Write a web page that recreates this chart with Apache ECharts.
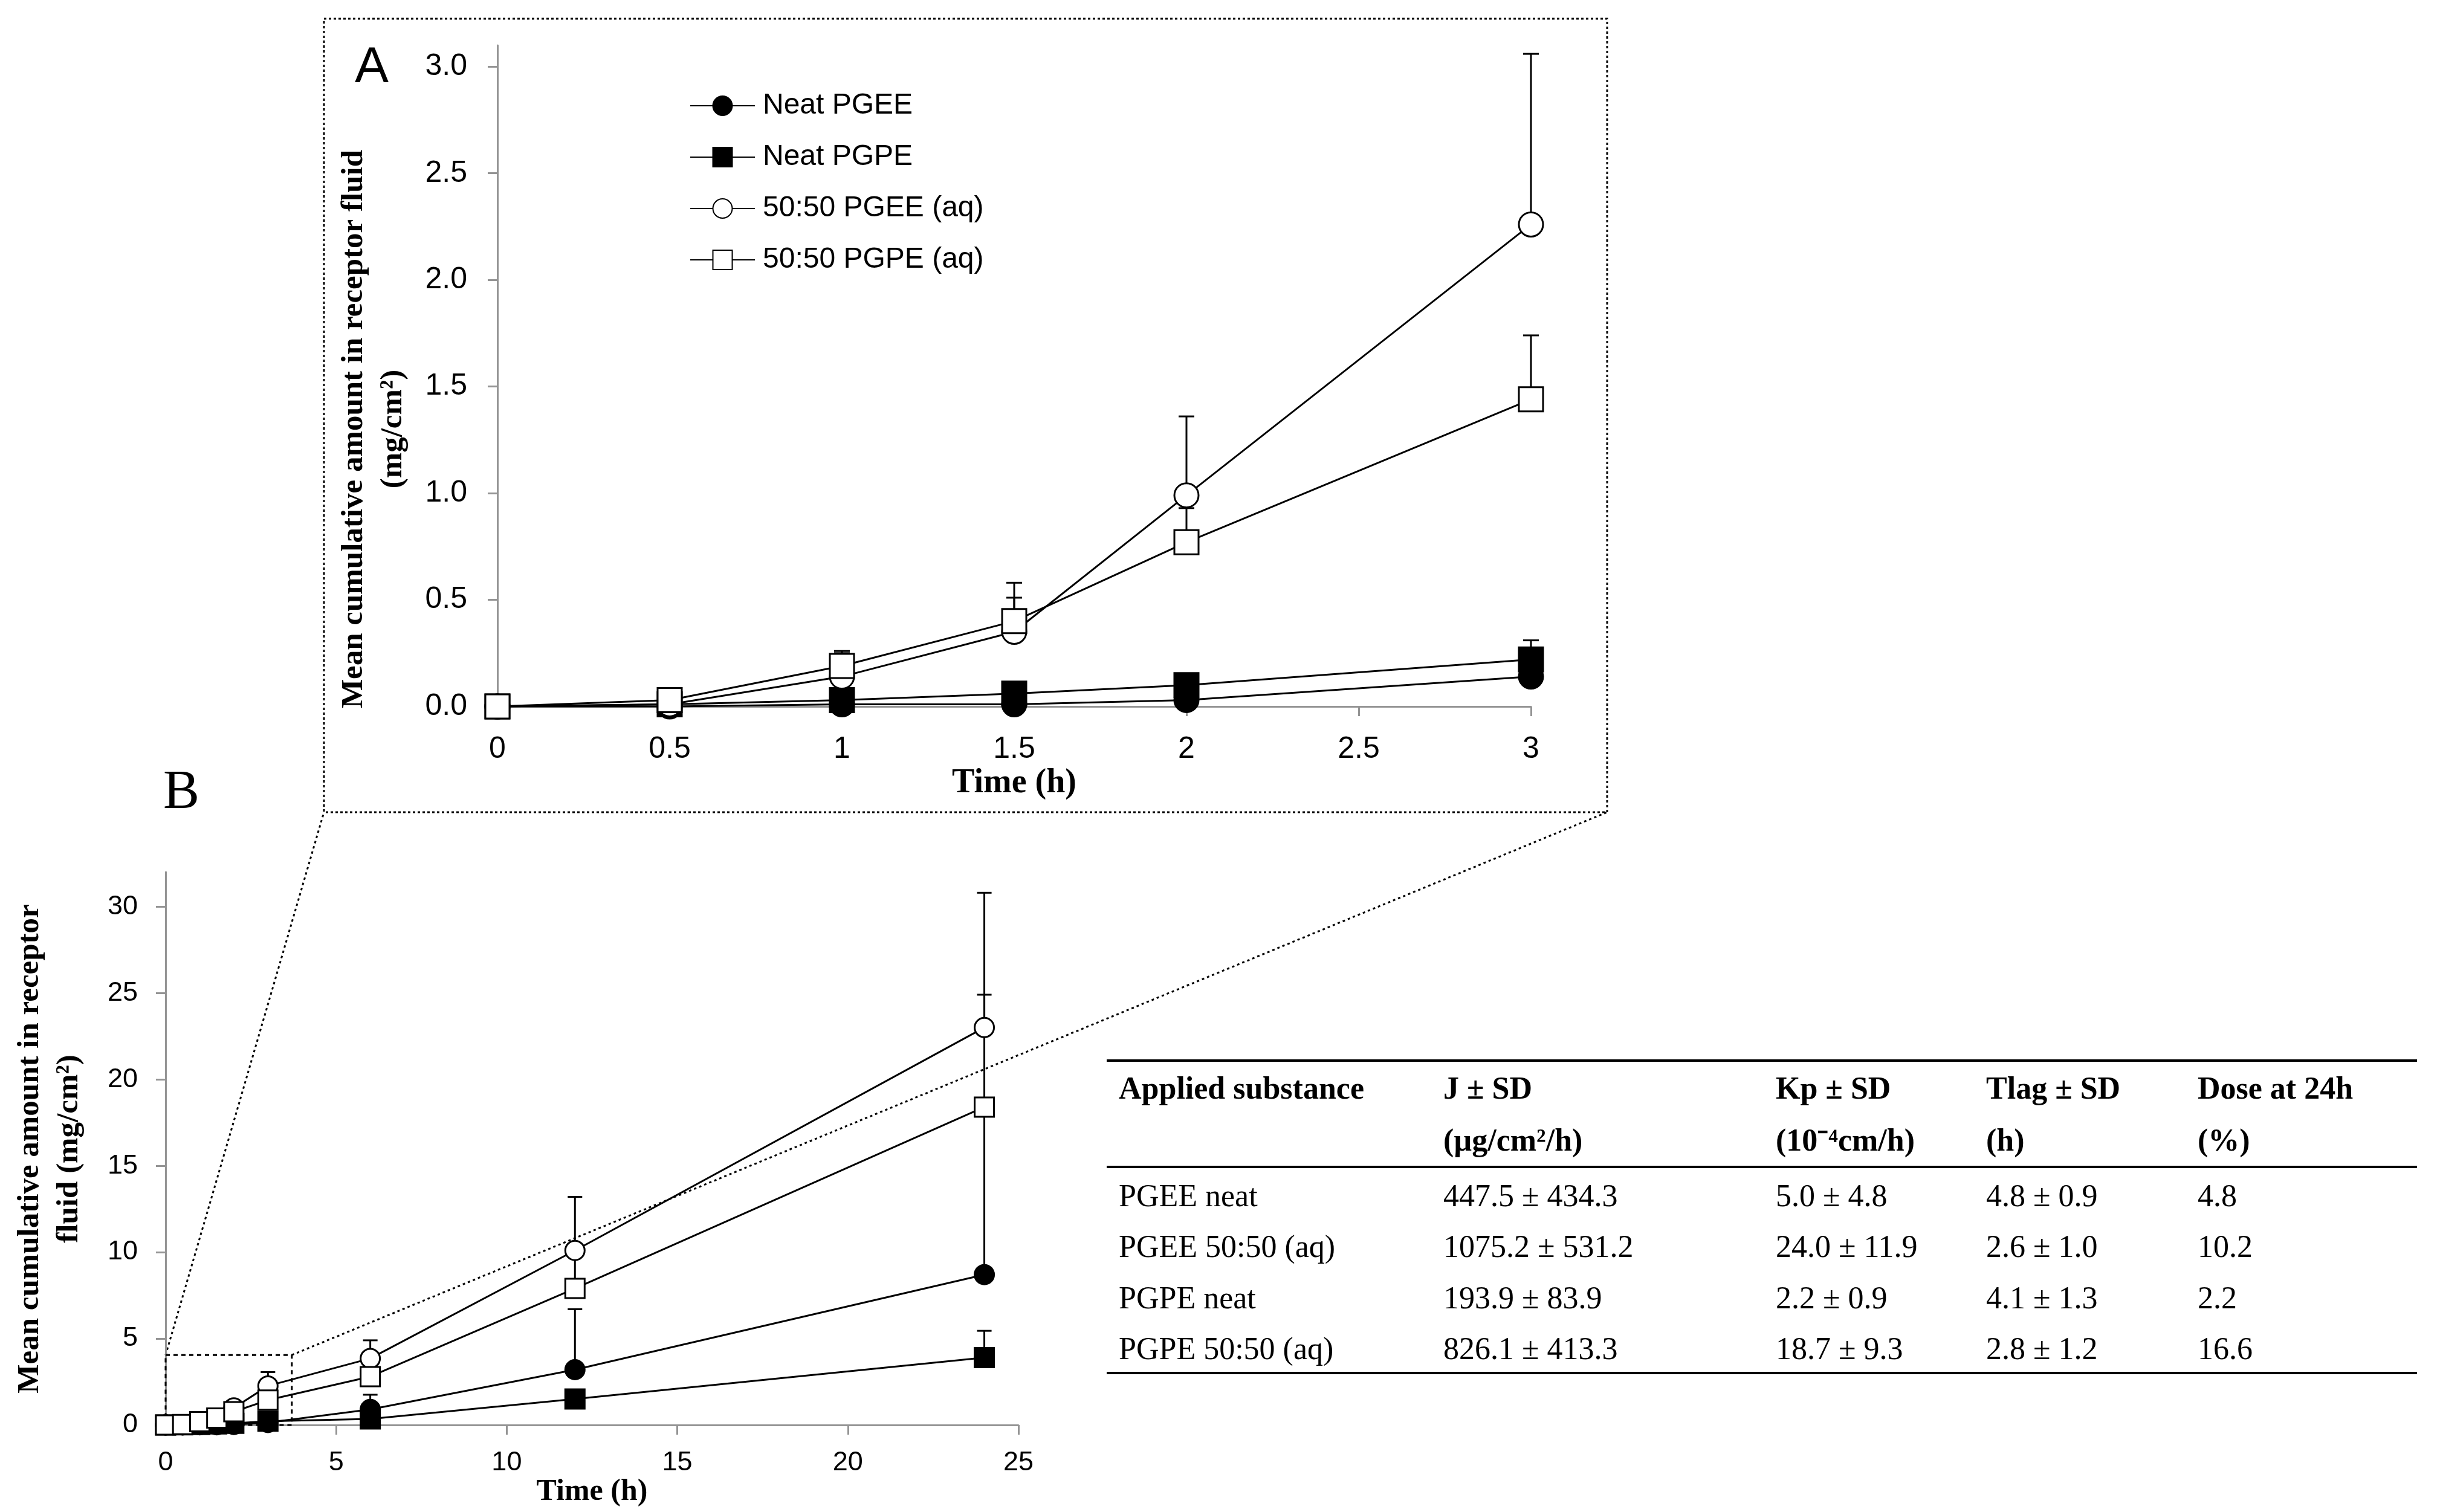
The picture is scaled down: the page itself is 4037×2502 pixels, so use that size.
<!DOCTYPE html>
<html>
<head>
<meta charset="utf-8">
<script src="https://cdn.jsdelivr.net/npm/echarts@6/dist/echarts.min.js"></script>
<style>
html,body{margin:0;padding:0;background:#fff;}
#chart{width:4037px;height:2502px;}
</style>
</head>
<body>
<div id="chart"></div>
<script>
// ---------------- DATA ----------------
const times = [0, 0.5, 1, 1.5, 2, 3, 6, 12, 24];

const neatPGEE    = [0, 0.00, 0.01, 0.01, 0.03, 0.14, 0.90, 3.2, 8.7];
const neatPGEE_sd = [0, 0.005, 0.01, 0.01, 0.015, 0.08, 0.85, 3.5, 9.9];
const neatPGPE    = [0, 0.01, 0.03, 0.06, 0.10, 0.22, 0.35, 1.5, 3.9];
const neatPGPE_sd = [0, 0.005, 0.01, 0.02, 0.03, 0.09, 0.15, 0.5, 1.55];
const pgee50      = [0, 0.01, 0.14, 0.35, 0.99, 2.26, 3.85, 10.1, 23.0];
const pgee50_sd   = [0, 0.01, 0.12, 0.23, 0.37, 0.80, 1.05, 3.1, 7.8];
const pgpe50      = [0, 0.03, 0.19, 0.40, 0.77, 1.44, 2.80, 7.9, 18.4];
const pgpe50_sd   = [0, 0.01, 0.06, 0.11, 0.16, 0.30, 0.90, 2.0, 6.5];

const seriesNames = ['Neat PGEE', 'Neat PGPE', '50:50 PGEE (aq)', '50:50 PGPE (aq)'];

// axis ticks
const aXTicks = [0, 0.5, 1, 1.5, 2, 2.5, 3];
const aYTicks = [0, 0.5, 1.0, 1.5, 2.0, 2.5, 3.0];
const bXTicks = [0, 5, 10, 15, 20, 25];
const bYTicks = [0, 5, 10, 15, 20, 25, 30];
const aYMax = 3.1;
const bYMax = 32;

// zoomed region shown in panel A (in panel B data units)
const zoomBoxX = [0, 3.7];
const zoomBoxY = [0, 4.05];

// table
const tableHeader1 = ['Applied substance', 'J ± SD', 'Kp ± SD', 'Tlag ± SD', 'Dose at 24h'];
const tableHeader2 = ['', '(µg/cm²/h)', '(10⁻⁴cm/h)', '(h)', '(%)'];
const tableRows = [
  ['PGEE neat', '447.5 ± 434.3', '5.0 ± 4.8', '4.8 ± 0.9', '4.8'],
  ['PGEE 50:50 (aq)', '1075.2 ± 531.2', '24.0 ± 11.9', '2.6 ± 1.0', '10.2'],
  ['PGPE neat', '193.9 ± 83.9', '2.2 ± 0.9', '4.1 ± 1.3', '2.2'],
  ['PGPE 50:50 (aq)', '826.1 ± 413.3', '18.7 ± 9.3', '2.8 ± 1.2', '16.6']
];

// ---------------- STYLE ----------------
const valuesBySeries = [neatPGEE, neatPGPE, pgee50, pgpe50];
const sdBySeries = [neatPGEE_sd, neatPGPE_sd, pgee50_sd, pgpe50_sd];
const symbolBySeries = ['circle', 'rect', 'circle', 'rect'];
const fillBySeries = ['#000', '#000', '#fff', '#fff'];

const SANS = 'Liberation Sans';
const SERIF = 'Liberation Serif';
const AXIS_GREY = '#949494';

const panels = [
  { xMax: 3, xInterval: 0.5, yMax: aYMax, xTicks: aXTicks, yTicks: aYTicks, sym: 40, cap: 26,
    grid: { left: 823, top: 75, width: 1710, height: 1094 }, fs: 50, yFmt: v => v.toFixed(1),
    xName: 'Time (h)', xNameSize: 56, xNameGap: 100, yMargin: 50, xMargin: 46 },
  { xMax: 25, xInterval: 5, yMax: bYMax, xTicks: bXTicks, yTicks: bYTicks, sym: 32, cap: 24,
    grid: { left: 274, top: 1443, width: 1411, height: 915 }, fs: 45, yFmt: v => String(v),
    xName: 'Time (h)', xNameSize: 50, xNameGap: 71, yMargin: 46, xMargin: 40 }
];

const chart = echarts.init(document.getElementById('chart'), null, { renderer: 'canvas', devicePixelRatio: 1 });

const grids = [], xAxes = [], yAxes = [], series = [];
panels.forEach((p, pi) => {
  grids.push(Object.assign({ containLabel: false }, p.grid));
  xAxes.push({
    type: 'value', gridIndex: pi, min: 0, max: p.xMax, interval: p.xInterval,
    splitLine: { show: false },
    axisLine: { lineStyle: { color: AXIS_GREY, width: 3 } },
    axisTick: { length: 16, lineStyle: { color: AXIS_GREY, width: 3 } },
    axisLabel: { margin: p.xMargin, fontFamily: SANS, fontSize: p.fs, color: '#000',
      customValues: p.xTicks },
    name: p.xName, nameLocation: 'middle', nameGap: p.xNameGap,
    nameTextStyle: { fontFamily: SERIF, fontWeight: 'bold', fontSize: p.xNameSize, color: '#000' }
  });
  yAxes.push({
    type: 'value', gridIndex: pi, min: 0, max: p.yMax,
    splitLine: { show: false },
    axisLine: { show: true, lineStyle: { color: AXIS_GREY, width: 3 } },
    axisTick: { show: true, length: 16, lineStyle: { color: AXIS_GREY, width: 3 }, customValues: p.yTicks },
    axisLabel: { margin: p.yMargin, fontFamily: SANS, fontSize: p.fs, color: '#000',
      customValues: p.yTicks, formatter: p.yFmt }
  });

  valuesBySeries.forEach((vals, si) => {
    const idx = times.map((t, i) => i).filter(i => times[i] <= p.xMax);
    // error bars (plus direction)
    series.push({
      type: 'custom', xAxisIndex: pi, yAxisIndex: pi, z: 1, silent: true,
      data: idx.filter(i => sdBySeries[si][i] > 0).map(i => [times[i], vals[i], vals[i] + sdBySeries[si][i]]),
      encode: { x: 0, y: [1, 2] },
      renderItem: (params, api) => {
        const p0 = api.coord([api.value(0), api.value(1)]);
        const p1 = api.coord([api.value(0), api.value(2)]);
        const w = p.cap / 2;
        return { type: 'group', children: [
          { type: 'line', shape: { x1: p0[0], y1: p0[1], x2: p1[0], y2: p1[1] }, style: { stroke: '#000', lineWidth: 3 } },
          { type: 'line', shape: { x1: p1[0] - w, y1: p1[1], x2: p1[0] + w, y2: p1[1] }, style: { stroke: '#000', lineWidth: 3 } }
        ] };
      }
    });
    const s = {
      type: 'line', name: seriesNames[si], xAxisIndex: pi, yAxisIndex: pi, z: 3,
      data: idx.map(i => [times[i], vals[i]]),
      symbol: symbolBySeries[si], symbolSize: p.sym, showAllSymbol: true, clip: false,
      lineStyle: { color: '#000', width: 3 },
      itemStyle: { color: fillBySeries[si], borderColor: '#000', borderWidth: 3 },
      emphasis: { disabled: true }
    };
    if (pi === 1 && si === 0) {
      s.markArea = {
        silent: true,
        itemStyle: { color: 'rgba(0,0,0,0)', borderColor: '#000', borderWidth: 3, borderType: [7, 6] },
        data: [[{ coord: [zoomBoxX[0], zoomBoxY[1]] }, { coord: [zoomBoxX[1], zoomBoxY[0]] }]]
      };
    }
    series.push(s);
  });
});

// ---------------- GRAPHICS (labels, box, table) ----------------
const graphic = [];
const boxA = { x1: 536, y1: 31, x2: 2659, y2: 1344 };
graphic.push({ id: 'boxA', type: 'rect', shape: { x: boxA.x1, y: boxA.y1, width: boxA.x2 - boxA.x1, height: boxA.y2 - boxA.y1 },
  style: { fill: 'none', stroke: '#000', lineWidth: 3, lineDash: [4, 4] }, z: 0 });
graphic.push({ id: 'labA', type: 'text', x: 615, y: 113, style: { text: 'A', font: '84px "' + SANS + '"', fill: '#000', textAlign: 'center', textVerticalAlign: 'middle' } });
graphic.push({ id: 'labB', type: 'text', x: 300, y: 1313, style: { text: 'B', font: '90px "' + SERIF + '"', fill: '#000', textAlign: 'center', textVerticalAlign: 'middle' } });

function yTitle(id, x, y, text) {
  graphic.push({ id: id, type: 'text', x: x, y: y, rotation: Math.PI / 2,
    style: { text: text, font: 'bold 51px "' + SERIF + '"', fill: '#000', textAlign: 'center', textVerticalAlign: 'middle' } });
}
yTitle('ytA1', 586, 710, 'Mean cumulative amount in receptor fluid');
yTitle('ytA2', 651, 710, '(mg/cm²)');
yTitle('ytB1', 50, 1901, 'Mean cumulative amount in receptor');
yTitle('ytB2', 115, 1901, 'fluid (mg/cm²)');

// table
const colX = [1851, 2388, 2938, 3286, 3636];
const headY = [1805, 1891];
const rowY = [1982, 2066, 2151, 2235];
const ruleY = [1755, 1931, 2272];
const tblX = [1831, 3999];
ruleY.forEach((y, i) => graphic.push({ id: 'rule' + i, type: 'line', shape: { x1: tblX[0], y1: y, x2: tblX[1], y2: y }, style: { stroke: '#000', lineWidth: 4 } }));
function cell(id, x, y, text, bold) {
  graphic.push({ id: id, type: 'text', x: x, y: y,
    style: { text: text, font: (bold ? 'bold ' : '') + '52px "' + SERIF + '"', fill: '#000', textAlign: 'left', textVerticalAlign: 'middle' } });
}
tableHeader1.forEach((t, c) => cell('h1_' + c, colX[c], headY[0], t, true));
tableHeader2.forEach((t, c) => { if (t) cell('h2_' + c, colX[c], headY[1], t, true); });
tableRows.forEach((row, r) => row.forEach((t, c) => cell('r' + r + '_' + c, colX[c], rowY[r], t, false)));

chart.setOption({
  animation: false,
  backgroundColor: '#fff',
  legend: {
    data: seriesNames, orient: 'vertical', left: 1136, top: 146,
    itemWidth: 107, itemHeight: 40, itemGap: 37,
    textStyle: { fontFamily: SANS, fontSize: 48, color: '#000', padding: [0, 0, 0, 8] },
    selectedMode: false
  },
  grid: grids, xAxis: xAxes, yAxis: yAxes, series: series,
  graphic: graphic
});

// connectors from panel B zoom box to panel A frame
const tl = chart.convertToPixel({ xAxisIndex: 1, yAxisIndex: 1 }, [zoomBoxX[0], zoomBoxY[1]]);
const tr = chart.convertToPixel({ xAxisIndex: 1, yAxisIndex: 1 }, [zoomBoxX[1], zoomBoxY[1]]);
chart.setOption({ graphic: [
  { id: 'conL', type: 'line', shape: { x1: tl[0], y1: tl[1], x2: boxA.x1, y2: boxA.y2 }, style: { stroke: '#000', lineWidth: 3, lineDash: [4, 5] }, z: 0 },
  { id: 'conR', type: 'line', shape: { x1: tr[0], y1: tr[1], x2: boxA.x2, y2: boxA.y2 }, style: { stroke: '#000', lineWidth: 3, lineDash: [4, 5] }, z: 0 }
] });
</script>
</body>
</html>
